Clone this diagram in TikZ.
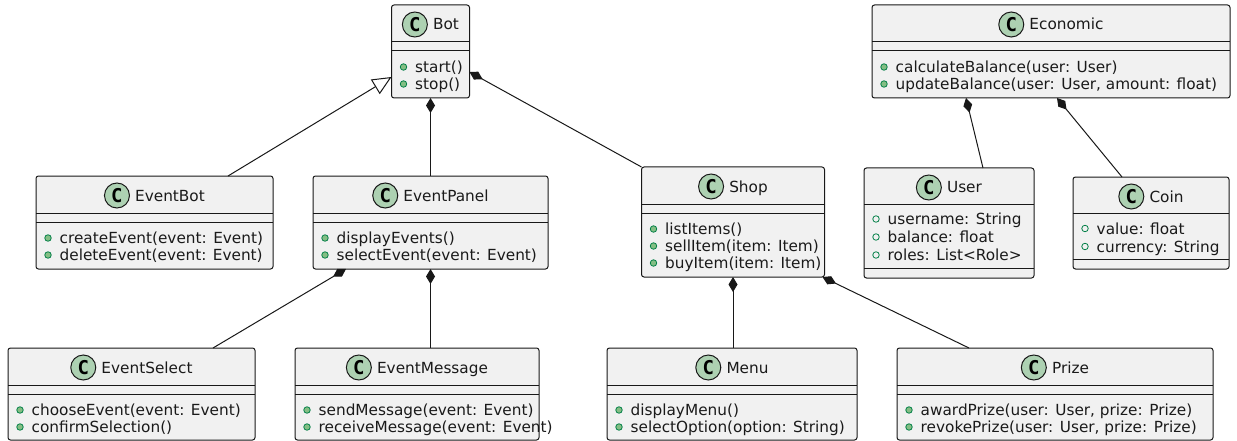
\documentclass[tikz,border=0pt]{standalone}
\usepackage{fontspec}
\setmainfont{DejaVu Sans}
\newfontfamily\spotfont{DejaVu Sans Mono}
\usetikzlibrary{arrows.meta}
\definecolor{boxfill}{HTML}{F1F1F1}
\definecolor{boxline}{HTML}{181818}
\definecolor{spotfill}{HTML}{ADD1B2}
\definecolor{pubfill}{HTML}{84BE84}
\definecolor{publine}{HTML}{038048}
\definecolor{txt}{HTML}{1A1A1A}
\tikzset{
  cls/.style={draw=boxline, fill=boxfill, line width=1pt, rounded corners=2.5pt, inner sep=0pt, outer sep=0pt},
  sepline/.style={draw=boxline, line width=1pt},
  ctitle/.style={anchor=base, inner sep=0pt, text=txt, font=\fontsize{15.3}{18}\selectfont},
  cicon/.style={circle, draw=boxline, fill=spotfill, line width=1pt, minimum size=25pt, inner sep=0pt, anchor=east, font=\spotfont\bfseries\fontsize{19}{19}\selectfont},
  mdot/.style={circle, draw=publine, fill=pubfill, minimum size=6.5pt, inner sep=0pt, line width=0.8pt},
  fdot/.style={circle, draw=publine, fill=none, minimum size=6.5pt, inner sep=0pt, line width=0.8pt},
  mtext/.style={anchor=base west, inner sep=0pt, text=txt, font=\fontsize{15.3}{18}\selectfont},
  link/.style={draw=boxline, line width=1pt},
  comp/.style={link, {Diamond[length=15pt,width=9pt,fill=boxline]}-},
  inh/.style={link, -{Triangle[length=19pt,width=17pt,fill=white]}},
}
% #1 name, #2 cx, #3 top, #4 width, #5 height, #6 title, #7 header offset, #8 second separator offset
\newcommand\umlbox[8]{%
  \node[cls, minimum width=#4pt, minimum height=#5pt, anchor=north] (#1) at (#2,#3) {};
  \draw[sepline] ([yshift=-#7pt]#1.north west) -- ([yshift=-#7pt]#1.north east);
  \draw[sepline] ([yshift=-#8pt]#1.north west) -- ([yshift=-#8pt]#1.north east);
  \node[ctitle] (#1-t) at ([xshift=15.5pt, yshift=-25pt]#1.north) {#6};
  \node[cicon] (#1-c) at ([xshift=-5pt, yshift=5.5pt]#1-t.base west) {C};
}
\newcommand\umlmeth[3]{%
  \node[mdot] at ([xshift=12pt, yshift=-#2pt]#1.north west) {};
  \node[mtext] at ([xshift=23.5pt, yshift=-#2pt-5.5pt]#1.north west) {#3};
}
\newcommand\umlfield[3]{%
  \node[fdot] at ([xshift=12pt, yshift=-#2pt]#1.north west) {};
  \node[mtext] at ([xshift=23.5pt, yshift=-#2pt-5.5pt]#1.north west) {#3};
}
\begin{document}
\begin{tikzpicture}[x=1pt, y=-1pt]
\useasboundingbox (0,0) rectangle (1237,441);

% Bot
\umlbox{bot}{430.5}{5}{78}{93}{Bot}{37}{46}
\umlmeth{bot}{62}{start()}
\umlmeth{bot}{79}{stop()}

% Economic
\umlbox{econ}{1051}{5}{358}{93}{Economic}{37}{46}
\umlmeth{econ}{62}{calculateBalance(user: User)}
\umlmeth{econ}{79}{updateBalance(user: User, amount: float)}

% EventBot
\umlbox{ebot}{154.5}{176}{237}{93}{EventBot}{37}{46}
\umlmeth{ebot}{62}{createEvent(event: Event)}
\umlmeth{ebot}{79}{deleteEvent(event: Event)}

% EventPanel
\umlbox{epanel}{430.5}{176}{235}{93}{EventPanel}{37}{46}
\umlmeth{epanel}{62}{displayEvents()}
\umlmeth{epanel}{79}{selectEvent(event: Event)}

% Shop
\umlbox{shop}{733}{167}{183}{110}{Shop}{37}{46}
\umlmeth{shop}{62}{listItems()}
\umlmeth{shop}{79}{sellItem(item: Item)}
\umlmeth{shop}{96}{buyItem(item: Item)}

% User
\umlbox{user}{949}{168}{170}{110}{User}{36.5}{100}
\umlfield{user}{51}{username: String}
\umlfield{user}{69}{balance: float}
\umlfield{user}{87}{roles: List<Role>}

% Coin
\umlbox{coin}{1151}{177}{156}{92}{Coin}{36.5}{82.5}
\umlfield{coin}{51.5}{value: float}
\umlfield{coin}{69.5}{currency: String}

% EventSelect
\umlbox{esel}{131.5}{348}{247}{92}{EventSelect}{37}{46}
\umlmeth{esel}{62}{chooseEvent(event: Event)}
\umlmeth{esel}{79}{confirmSelection()}

% EventMessage
\umlbox{emsg}{417}{348}{244}{92}{EventMessage}{37}{46}
\umlmeth{emsg}{62}{sendMessage(event: Event)}
\umlmeth{emsg}{79}{receiveMessage(event: Event)}

% Menu
\umlbox{menu}{732}{348}{250}{92}{Menu}{37}{46}
\umlmeth{menu}{62}{displayMenu()}
\umlmeth{menu}{79}{selectOption(option: String)}

% Prize
\umlbox{prize}{1055}{348}{316}{92}{Prize}{37}{46}
\umlmeth{prize}{62}{awardPrize(user: User, prize: Prize)}
\umlmeth{prize}{79}{revokePrize(user: User, prize: Prize)}

% connectors
\draw[inh] ([xshift=73.5pt]ebot.north) -- ([yshift=-25.5pt]bot.west);
\draw[comp] (bot.south) -- (epanel.north);
\draw[comp] ([yshift=-20.5pt]bot.east) -- (shop.north west);
\draw[comp] ([xshift=-85pt]econ.south) -- ([xshift=34pt]user.north);
\draw[comp] ([xshift=6pt]econ.south) -- ([xshift=-29pt]coin.north);
\draw[comp] ([xshift=-84.5pt]epanel.south) -- ([xshift=81.5pt]esel.north);
\draw[comp] (epanel.south) -- (epanel.south |- emsg.north);
\draw[comp] (shop.south) -- (shop.south |- menu.north);
\draw[comp] ([xshift=-2pt]shop.south east) -- ([xshift=-86pt]prize.north);
\end{tikzpicture}
\end{document}
